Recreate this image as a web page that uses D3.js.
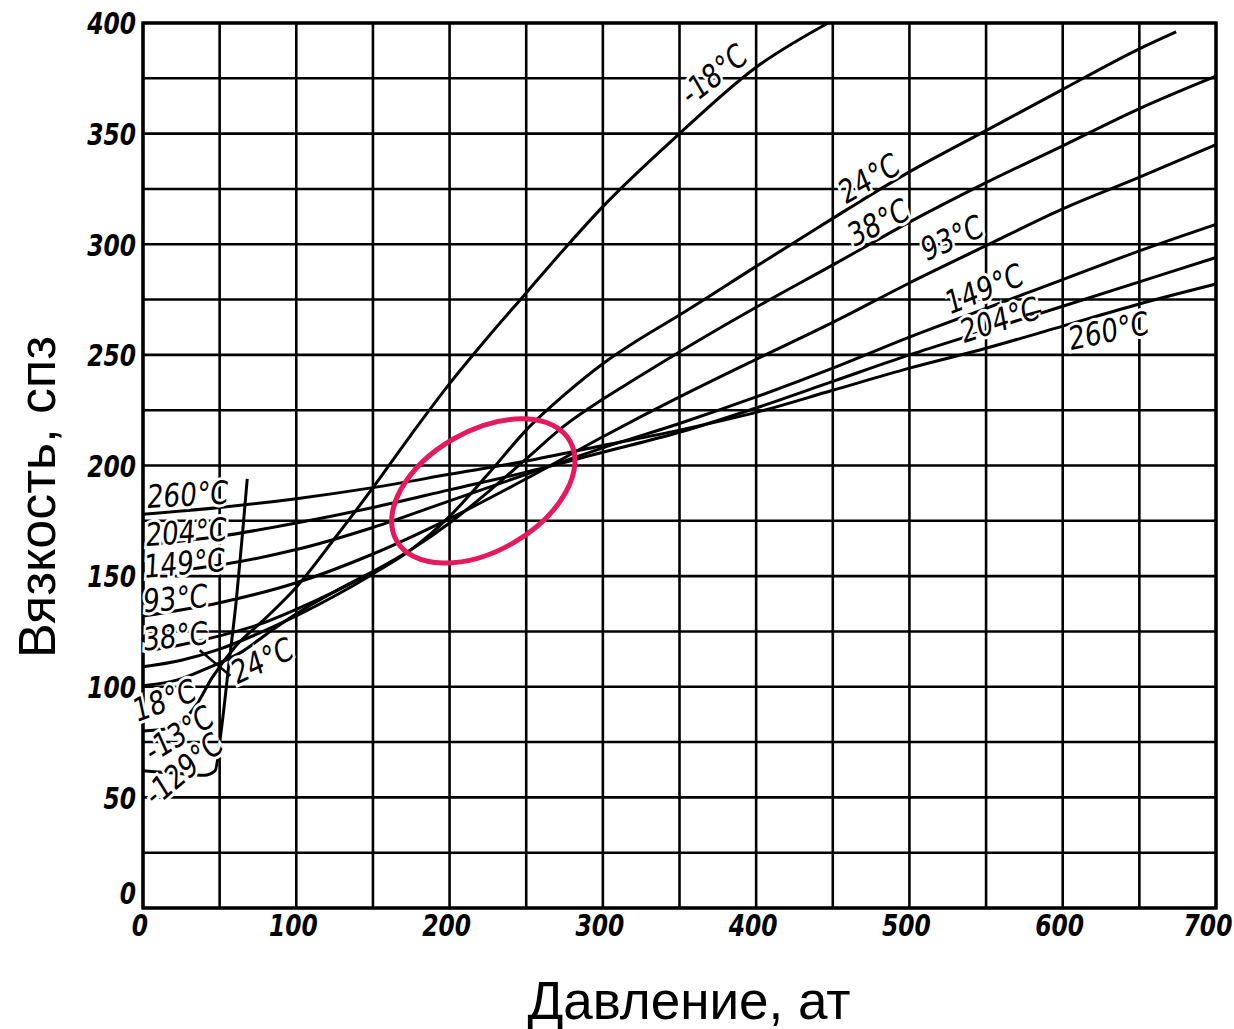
<!DOCTYPE html>
<html><head><meta charset="utf-8">
<script src="https://cdn.jsdelivr.net/npm/d3@7/dist/d3.min.js"></script>
<style>body{margin:0;background:#fff}</style>
</head><body>
<script>
// ---- data ----
const pressureTicks = [0,100,200,300,400,500,600,700];
const viscosityTicks = [0,50,100,150,200,250,300,350,400];
const t260 = [[0,178],[50,181],[100,185],[150,190],[200,196],[250,202],[300,209],[350,216],[400,224],[450,234],[500,244],[550,253],[600,263],[650,273],[700,282]];
const t204 = [[0,164],[50,168],[100,174],[150,181],[200,189],[250,197],[300,206],[350,215],[400,226],[450,238],[500,250],[550,261],[600,272],[650,283],[700,294]];
const t149 = [[0,151],[50,155],[100,162],[150,172],[200,184],[250,196],[300,208],[350,219],[400,231],[450,244],[500,258],[550,271],[600,284],[650,297],[700,309]];
const t93  = [[0,132],[50,138],[100,147],[150,160],[200,176],[250,194],[300,213],[350,231],[400,248],[451,265],[500,282.5],[549,299],[600,316],[649,330],[700,345]];
const t38  = [[0,116],[25,119],[50,123],[75,128],[100,135],[125,143],[150,152],[175,162],[200,174],[225,188],[250,203],[275,218],[300,230],[320,238.6],[363,256.7],[400,271.5],[451,291],[500,310],[549,327.5],[600,344.5],[649,361],[700,376]];
const t24  = [[0,109],[25,112],[50,117],[75,124],[100,132],[125,141],[150,151],[175,162],[200,177],[225,196],[250,216],[275,232],[300,246],[323,256.7],[350,268],[400,290],[441,307.8],[500,332.7],[549,351],[600,370],[649,388],[674,396]];
const t18  = [[0,100.5],[22,103],[44,109],[65,116],[81,124],[100,133],[125,143],[150,152]];
const tm18 = [[0,80],[15,81],[25,84],[35,92],[45,104],[60,118],[80,131],[100,145],[125,167],[150,190],[175,214],[200,237],[225,258],[250,278],[275,298],[300,317],[350,350],[400,380],[447,400]];
const tm129 = [[0,62],[20,61],[40,60],[47,62],[51,80],[56,110],[61,140],[65,170],[68,194]];
const curves = [t260,t204,t149,t93,t38,t24,t18,tm18,tm129];
// curve labels: text, anchor (pressure, viscosity), rotation
const labelText  = ["260°C","204°C","149°C","93°C","38°C","24°C","18°C","-13°C","-129°C","-18°C","24°C","38°C","93°C","149°C","204°C","260°C"];
const labelP     = [29,28,27,21,21,78,14,24,27,373,474,480,528,549,559,630];
const labelV     = [186,169,155,139,122,111,93,78,62,376,329,309,302,279,265,260];
const labelAngle = [-3,-4,-5,-5,-6,-25,-20,-32,-40,-38,-30,-27,-24,-22,-18,-12];
// leader strokes: [p1, v1, p2, v2]
const leaders = [[576,268,586,270],[37,116.5,57,105]];
const highlight = {p:222, v:188.5};

// ---- layout ----
const W=1234,H=1029;
const x = d3.scaleLinear().domain([0,700]).range([143,1216]);
const y = d3.scaleLinear().domain([0,400]).range([908,23]);
const svg = d3.select("body").append("svg").attr("width",W).attr("height",H);

// grid
const g = svg.append("g");
g.selectAll(".vx").data(d3.range(0,701,50)).join("line")
  .attr("x1",d=>x(d)).attr("x2",d=>x(d)).attr("y1",y(0)).attr("y2",y(400))
  .attr("stroke","#000").attr("stroke-width",2.6);
g.selectAll(".hy").data(d3.range(0,401,25)).join("line")
  .attr("y1",d=>y(d)).attr("y2",d=>y(d)).attr("x1",x(0)).attr("x2",x(700))
  .attr("stroke","#000").attr("stroke-width",2.6);
g.append("rect").attr("x",x(0)).attr("y",y(400)).attr("width",x(700)-x(0)).attr("height",y(0)-y(400))
  .attr("fill","none").attr("stroke","#000").attr("stroke-width",3.4);

// curves
const line = d3.line().x(d=>x(d[0])).y(d=>y(d[1])).curve(d3.curveMonotoneX);
svg.append("g").selectAll("path").data(curves).join("path")
  .attr("d",line).attr("fill","none").attr("stroke","#000").attr("stroke-width",3);

// curve labels
const labels = labelText.map((t,i)=>({t, p:labelP[i], v:labelV[i], a:labelAngle[i]}));
svg.append("g").selectAll("text").data(labels).join("text")
  .attr("transform",d=>`translate(${x(d.p)},${y(d.v)}) rotate(${d.a}) skewX(-8) scale(0.82,1)`)
  .attr("text-anchor","middle").attr("dominant-baseline","middle")
  .attr("font-family","DejaVu Sans, sans-serif").attr("font-size",32)
  .attr("fill","#000").attr("stroke","#fff").attr("stroke-width",6).attr("paint-order","stroke")
  .text(d=>d.t);
svg.append("g").selectAll("line").data(leaders).join("line")
  .attr("x1",d=>x(d[0])).attr("y1",d=>y(d[1])).attr("x2",d=>x(d[2])).attr("y2",d=>y(d[3]))
  .attr("stroke","#000").attr("stroke-width",2.5);

// tick labels
const tickFont = "DejaVu Sans, sans-serif";
svg.append("g").selectAll("text").data(viscosityTicks).join("text")
  .attr("transform",d=>`translate(136,${y(d)+(d===0?-12:3)}) scale(0.78,1)`)
  .attr("text-anchor","end").attr("dominant-baseline","middle")
  .attr("font-family",tickFont).attr("font-style","italic").attr("font-weight","bold").attr("font-size",30)
  .text(d=>d);
svg.append("g").selectAll("text").data(pressureTicks).join("text")
  .attr("transform",d=>`translate(${d===700?x(d)-8:x(d)-3},928) scale(0.78,1)`)
  .attr("text-anchor","middle").attr("dominant-baseline","middle")
  .attr("font-family",tickFont).attr("font-style","italic").attr("font-weight","bold").attr("font-size",30)
  .text(d=>d);

// axis titles
svg.append("text").attr("transform",`translate(55,497) rotate(-90)`)
  .attr("text-anchor","middle").attr("font-family","Liberation Sans, Arial, sans-serif").attr("font-size",52)
  .text("Вязкость, спз");
svg.append("text").attr("x",689).attr("y",1019)
  .attr("text-anchor","middle").attr("font-family","Liberation Sans, Arial, sans-serif").attr("font-size",53)
  .text("Давление, ат");

// highlight ellipse
svg.append("ellipse").attr("cx",x(highlight.p)).attr("cy",y(highlight.v)).attr("rx",100).attr("ry",60)
  .attr("transform",`rotate(-30,${x(highlight.p)},${y(highlight.v)})`)
  .attr("fill","none").attr("stroke","#e5195e").attr("stroke-width",5);
</script>
</body></html>
